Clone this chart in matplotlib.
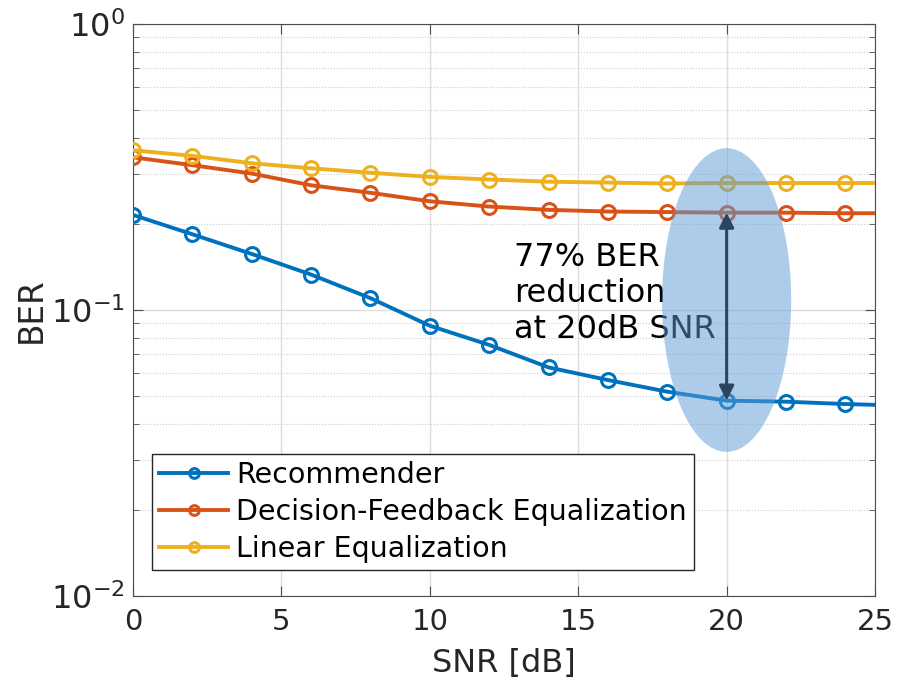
import numpy as np
import matplotlib.pyplot as plt
from matplotlib.patches import Ellipse
from matplotlib.ticker import LogLocator, NullFormatter

# Data
snr = [0, 2, 4, 6, 8, 10, 12, 14, 16, 18, 20, 22, 24, 25]
ber_rec = [0.215, 0.184, 0.157, 0.133, 0.110, 0.0881, 0.0755, 0.0630, 0.0569, 0.0518, 0.0482, 0.0478, 0.0469, 0.0466]
ber_dfe = [0.342, 0.321, 0.300, 0.273, 0.257, 0.240, 0.230, 0.224, 0.221, 0.220, 0.219, 0.219, 0.218, 0.218]
ber_lin = [0.362, 0.346, 0.326, 0.313, 0.302, 0.292, 0.286, 0.281, 0.279, 0.277, 0.278, 0.278, 0.278, 0.278]
labels = ['Recommender', 'Decision-Feedback Equalization', 'Linear Equalization']
colors = ['#0072BD', '#D95319', '#EDB120']

plt.rcParams['font.family'] = 'DejaVu Sans'
fig = plt.figure(figsize=(8.97, 6.87), dpi=100)
ax = fig.add_axes([0.1483, 0.1325, 0.8272, 0.8325])

for y, lab, c in zip([ber_rec, ber_dfe, ber_lin], labels, colors):
    # marker every 2 dB, line runs to 25
    ax.plot(snr, y, '-o', color=c, lw=2.8, ms=10, mfc='none', mew=2.2,
            markevery=list(range(len(snr) - 1)), label=lab, zorder=3)

ax.set_yscale('log')
ax.set_xlim(0, 25)
ax.set_ylim(1e-2, 1)
ax.set_xticks([0, 5, 10, 15, 20, 25])
ax.set_yticks([1e-2, 1e-1, 1])
ax.set_yticklabels(['$10^{-2}$', '$10^{-1}$', '$10^{0}$'])
ax.yaxis.set_minor_locator(LogLocator(base=10, subs=np.arange(2, 10)))
ax.yaxis.set_minor_formatter(NullFormatter())
ax.tick_params(which='both', direction='in', top=True, right=True,
               colors='#4d4d4d', labelcolor='#262626')
ax.tick_params(axis='x', labelsize=21, pad=9)
ax.tick_params(axis='y', labelsize=23, pad=6)
ax.tick_params(which='major', length=7)
ax.tick_params(which='minor', length=4)
ax.grid(True, which='major', color='#dcdcdc', lw=1)
ax.grid(True, which='minor', axis='y', color='#cccccc', lw=0.8, ls=':')
for s in ax.spines.values():
    s.set_color('#4d4d4d')
ax.set_xlabel('SNR [dB]', fontsize=23, color='#262626', labelpad=8)
ax.set_ylabel('BER', fontsize=23.5, color='#262626', labelpad=2)

# highlight ellipse around 20 dB (drawn over lines and text)
ix = snr.index(20)
y_top, y_bot = 0.368, 0.0319
yc = (np.log10(y_top) + np.log10(y_bot)) / 2 / 2 + 1
h = (np.log10(y_top) - np.log10(y_bot)) / 2
ax.add_patch(Ellipse((20 / 25, yc), 4.35 / 25, h, transform=ax.transAxes,
                     color='#5b9bd5', alpha=0.5, lw=0, zorder=4))

ax.annotate('', xy=(snr[ix], ber_rec[ix]), xytext=(snr[ix], ber_dfe[ix]),
            arrowprops=dict(arrowstyle='<|-|>', color='#2b4561', lw=2.2,
                            mutation_scale=22, shrinkA=0, shrinkB=0), zorder=5)
ax.text(12.85, 0.173, '77% BER\nreduction\nat 20dB SNR', fontsize=23,
        va='top', ha='left', linespacing=1.22, zorder=3.5)

leg = ax.legend(loc='lower left', bbox_to_anchor=(0.026, 0.045), fontsize=20.5,
                handlelength=2.4, handletextpad=0.3, borderpad=0.25,
                borderaxespad=0, labelspacing=0.32, markerscale=0.7,
                fancybox=False, framealpha=1)
leg.get_frame().set_edgecolor('#262626')
leg.get_frame().set_linewidth(1)

fig.savefig('out.png', dpi=100)
